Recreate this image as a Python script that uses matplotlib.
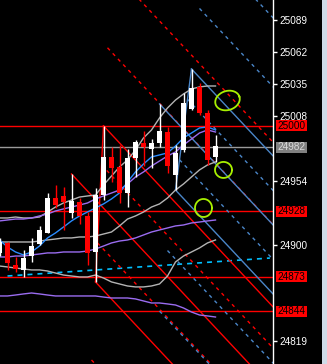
import numpy as np
import matplotlib
matplotlib.use("Agg")
import matplotlib.pyplot as plt
import matplotlib.transforms as mtransforms
from matplotlib.patches import Rectangle

# ==========================
# DATA
# ==========================

bars = list(range(-1, 27))

opens = [24893.1, 24901.5, 24882.9, 24878.8, 24890.5, 24900.6, 24909.9, 24939.3,
         24941.0, 24926.7, 24935.9, 24924.2, 24893.9, 24941.8, 24973.8, 24965.4,
         24943.5, 24972.9, 24985.6, 24980.5, 24985.6, 24994.8, 24958.6, 24979.7,
         25014.2, 25032.7, 25010.8, 24973.8]
highs = [24905.7, 24902.3, 24889.7, 24895.6, 24905.7, 24915.8, 24943.5, 24950.2,
         24948.6, 24959.5, 24939.3, 24927.5, 24947.7, 25000.0, 24982.2, 24983.9,
         24980.5, 24988.1, 24995.6, 24988.9, 25018.4, 24999.0, 24983.9, 25027.6,
         25047.8, 25036.0, 25013.3, 24992.3]
lows = [24890.5, 24878.8, 24877.1, 24872.9, 24885.5, 24899.8, 24909.9, 24930.9,
        24912.4, 24922.5, 24917.4, 24882.9, 24868.7, 24937.6, 24952.8, 24935.1,
        24931.7, 24957.0, 24966.2, 24964.5, 24982.2, 24960.3, 24946.0, 24978.0,
        25013.3, 25009.0, 24967.1, 24969.6]
closes = [24902.3, 24884.6, 24879.6, 24888.8, 24898.9, 24912.4, 24939.3, 24933.4,
          24935.9, 24936.8, 24924.2, 24893.1, 24941.8, 24973.8, 24964.5, 24943.5,
          24972.9, 24986.4, 24982.2, 24985.6, 24995.6, 24966.2, 24977.2, 25019.2,
          25031.8, 25010.8, 24971.3, 24983.0]

ma_blue = [24904.0, 24898.1, 24893.9, 24891.4, 24893.9, 24898.9, 24905.7, 24909.9,
           24914.9, 24920.0, 24924.2, 24927.5, 24930.9, 24934.3, 24938.5, 24943.5,
           24952.8, 24961.2, 24967.9, 24973.8, 24975.5, 24977.2, 24983.0, 24989.8,
           24994.0, 24998.2, 24999.0, 24996.5]
ma_purple_fast = [24920.0, 24920.8, 24921.6, 24921.6, 24922.5, 24924.2, 24925.8, 24928.4,
                  24930.1, 24931.7, 24933.4, 24935.1, 24938.5, 24941.0, 24943.5, 24946.0,
                  24951.1, 24957.0, 24961.2, 24966.2, 24970.4, 24974.6, 24978.0, 24983.9,
                  24988.9, 24994.0, 24996.5, 24994.8]
band_upper = [24922.5, 24922.5, 24923.3, 24922.5, 24922.5, 24923.3, 24927.5, 24931.7,
              24935.1, 24937.6, 24940.1, 24941.0, 24941.8, 24950.2, 24957.8, 24965.4,
              24971.3, 24979.7, 24989.8, 24996.5, 25006.6, 25015.0, 25021.7, 25026.8,
              25031.0, 25032.7, 25033.5, 25033.5]
band_mid = [24902.3, 24902.3, 24902.3, 24902.3, 24902.3, 24903.1, 24904.0, 24904.8,
            24905.7, 24905.7, 24906.5, 24906.5, 24907.3, 24909.0, 24910.7, 24915.8,
            24921.6, 24924.2, 24927.5, 24931.7, 24934.3, 24939.3, 24946.0, 24951.1,
            24957.0, 24962.9, 24967.1, 24969.6]
ma_purple_mid = [24889.7, 24889.7, 24890.5, 24890.5, 24891.4, 24892.2, 24893.1, 24893.1,
                 24893.9, 24893.9, 24893.9, 24894.7, 24896.4, 24898.9, 24901.5, 24903.1,
                 24904.0, 24905.7, 24908.2, 24910.7, 24912.4, 24914.1, 24915.8, 24916.6,
                 24918.3, 24919.1, 24920.0, 24920.8]
band_lower = [24882.1, 24881.3, 24880.4, 24879.6, 24878.8, 24878.8, 24877.9, 24876.2,
              24874.5, 24873.7, 24872.9, 24872.9, 24874.5, 24872.0, 24868.7, 24867.0,
              24865.3, 24864.5, 24864.5, 24865.3, 24867.0, 24873.7, 24885.5, 24890.5,
              24893.9, 24897.3, 24901.5, 24904.0]
ma_purple_slow = [24856.9, 24856.9, 24857.7, 24858.6, 24859.4, 24858.6, 24857.7, 24856.9,
                  24856.9, 24856.9, 24856.9, 24856.9, 24856.9, 24856.0, 24855.2, 24855.2,
                  24855.2, 24854.4, 24852.7, 24851.0, 24851.0, 24850.2, 24849.3, 24846.8,
                  24843.4, 24840.9, 24840.1, 24839.2]

trend_x = [0.0, 32.8]
trend_y = [24873.7, 24888.8]

level_prices = [25000, 24928, 24873, 24844]
bid_price = 24982
axis_ticks = [25089, 25062, 25035, 25008, 24954, 24900, 24819]

# pitchfork anchors: P1, P2, P3
red_fork_x = [8, 12, 11]
red_fork_y = [24959.5, 25000.0, 24868.7]
red_fork_levels = [0.5, -0.5, 2, 3, -2]

blue_fork_x = [19, 23, 21]
blue_fork_y = [25018.4, 25047.8, 24946.0]
blue_fork_levels = [0.5, -0.5, 2, 3, -2, -3]

ellipse_x = [27.5, 27.0, 24.5]
ellipse_y = [25021.3, 24962.9, 24930.9]
ellipse_w_px = [25, 17, 17]
ellipse_h_px = [19, 16, 18]
ellipse_angle = [18, 0, 0]

# ==========================
# FIGURE
# ==========================

W, H = 327, 364
PX_PER_BAR = 8.0
PX_PER_PT = 1.189
AX_W = 273

fig = plt.figure(figsize=(W / 100, H / 100), dpi=100, facecolor="black")
ax = fig.add_axes([0, 0, AX_W / W, 1], facecolor="black")

x_left = -7.5 / PX_PER_BAR
ax.set_xlim(x_left, x_left + AX_W / PX_PER_BAR)
y_top = 25089 + 20 / PX_PER_PT
ax.set_ylim(y_top - H / PX_PER_PT, y_top)

RED = "#ff0000"
STEEL = "#4a86c8"
GREY = "#b4b4b4"
PURPLE = "#9a6cf0"
BLUE = "#2a8cff"
CYAN = "#00bfff"

# horizontal levels
for p in level_prices:
    ax.axhline(p, color=RED, lw=1, zorder=1)
ax.axhline(bid_price, color="#9a9a9a", lw=1, zorder=1)

# trend line
ax.plot(trend_x, trend_y, color=CYAN, lw=1.2, ls=(0, (3, 3)), zorder=2)


def pitchfork(px, py, levels, color, dashed_color):
    p1 = np.array([px[0], py[0]])
    p2 = np.array([px[1], py[1]])
    p3 = np.array([px[2], py[2]])
    mid = (p2 + p3) / 2
    slope = (mid[1] - p1[1]) / (mid[0] - p1[0])
    x_end = 40

    def ray(start, style, c):
        ax.plot([start[0], x_end], [start[1], start[1] + slope * (x_end - start[0])],
                color=c, lw=1, ls=style, zorder=2)

    ray(p1, "-", color)
    ray(p2, "-", color)
    ray(p3, "-", color)
    ax.plot([p2[0], p3[0]], [p2[1], p3[1]], color=color, lw=1, zorder=2)
    for k in levels:
        ray(mid + k * (p2 - mid), (0, (2.5, 3)), dashed_color)


pitchfork(red_fork_x, red_fork_y, red_fork_levels, RED, RED)
pitchfork(blue_fork_x, blue_fork_y, blue_fork_levels, STEEL, STEEL)

# moving averages / bands
ax.plot(bars, ma_purple_slow, color=PURPLE, lw=1, zorder=3)
ax.plot(bars, band_lower, color=GREY, lw=1, zorder=3)
ax.plot(bars, ma_purple_mid, color=PURPLE, lw=1, zorder=3)
ax.plot(bars, band_mid, color=GREY, lw=1, zorder=3)
ax.plot(bars, band_upper, color=GREY, lw=1, zorder=3)
ax.plot(bars, ma_purple_fast, color=PURPLE, lw=1, zorder=3)
ax.plot(bars, ma_blue, color=BLUE, lw=1, zorder=3)

# candles
for i, o, h, l, c in zip(bars, opens, highs, lows, closes):
    col = "white" if c >= o else RED
    ax.vlines(i, l, h, color=col, lw=1, zorder=4)
    ax.add_patch(Rectangle((i - 0.31, min(o, c)), 0.62, abs(c - o),
                           facecolor=col, edgecolor="none", zorder=5))

# ellipses (drawn in pixel shape, placed at data centers)
t = np.linspace(0, 2 * np.pi, 100)
for cx, cy, w, h, a in zip(ellipse_x, ellipse_y, ellipse_w_px, ellipse_h_px, ellipse_angle):
    ang = np.radians(a)
    ex = w / 2 * np.cos(t)
    ey = h / 2 * np.sin(t)
    rx = ex * np.cos(ang) - ey * np.sin(ang)
    ry = ex * np.sin(ang) + ey * np.cos(ang)
    ax.plot(cx + rx / PX_PER_BAR, cy + ry / PX_PER_PT, color="#a8f000", lw=1.3, zorder=6)

# right price axis
for s in ["left", "top", "bottom"]:
    ax.spines[s].set_visible(False)
ax.spines["right"].set_color("white")
ax.spines["right"].set_linewidth(1)
ax.set_xticks([])
ax.yaxis.tick_right()
ax.set_yticks(axis_ticks)
ax.set_yticklabels([str(v) for v in axis_ticks])
ax.tick_params(axis="y", colors="white", length=3, width=1, pad=1.5,
               labelsize=7.2, labelfontfamily="Liberation Sans")

blend = mtransforms.blended_transform_factory(ax.transAxes, ax.transData)
box_h = 11 / PX_PER_PT
for p, fc, tc in [(level_prices[0], RED, "black"), (bid_price, "#808080", "#d8d8d8"),
                  (level_prices[1], RED, "black"), (level_prices[2], RED, "black"),
                  (level_prices[3], RED, "black")]:
    ax.add_patch(Rectangle((276 / AX_W, p - box_h / 2), 31 / AX_W, box_h,
                           transform=blend, facecolor=fc, edgecolor="none",
                           clip_on=False, zorder=7))
    ax.text(291.5 / AX_W, p, str(p), transform=blend, ha="center", va="center",
            color=tc, fontsize=7.2, family="Liberation Sans", zorder=8, clip_on=False)

# window strip at the right edge
fig.add_artist(Rectangle((322 / W, 0), 5 / W, 1, transform=fig.transFigure,
                         facecolor="#cfdbe8", edgecolor="none"))

fig.savefig("out.png", dpi=100, facecolor="black")
